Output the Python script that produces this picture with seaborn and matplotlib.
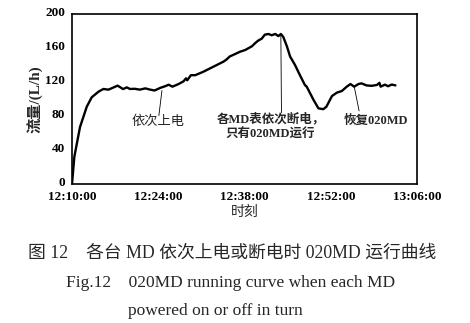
import matplotlib
matplotlib.use("Agg")
import matplotlib.pyplot as plt
import matplotlib.transforms as mtransforms
import seaborn as sns
import pandas as pd

# minutes after 12:10:00
minutes = [0, 0.38, 1.3, 2.4, 3.2, 4.3, 5.1, 5.9, 6.4, 7.4, 8.3, 8.9, 9.4, 10.2, 11.0,
           11.9, 12.7, 13.4, 14.3, 15.1, 15.7, 16.3, 17.3, 18.1, 18.5, 18.7, 19.3, 20.0,
           21.3, 22.4, 23.5, 24.6, 25.1, 25.6, 26.5, 27.3, 28.1, 28.6, 29.2, 29.7, 30.2,
           30.8, 31.3, 31.9, 32.4, 33.0, 33.5, 33.9, 34.3, 34.9, 35.4, 36.2, 37.0, 37.8,
           38.1, 39.2, 40.0, 40.8, 41.3, 42.2, 43.0, 43.8, 44.6, 45.2, 45.8, 46.5, 47.0,
           47.8, 48.6, 49.5, 49.9, 50.1, 50.8, 51.3, 51.9, 52.5]
flow = [0, 32, 67, 91, 102, 108.6, 111.8, 111, 112.5, 115.7, 111.7, 113.7, 111.8, 112, 111,
        112.5, 111, 110, 113, 115, 116.8, 114.5, 117.6, 120.8, 124.3, 122, 128, 128,
        132, 136, 140, 144, 146.6, 150, 153, 155.7, 157.6, 159.6, 162, 165.5, 168.6,
        171, 175.7, 176.5, 175, 176.5, 174, 176.5, 173, 161.6, 150, 140, 128, 116.5,
        114.5, 99, 89, 88, 91, 103.5, 107.5, 109.4, 114.5, 117.6, 114.5, 117.6, 118.4,
        116, 115.5, 116.5, 119, 114.5, 116.9, 115, 117, 116]

x_ticks = [0, 14, 28, 42, 56]
x_labels = ["12:10:00", "12:24:00", "12:38:00", "12:52:00", "13:06:00"]
y_ticks = [0, 40, 80, 120, 160, 200]

ann_texts = ["依次上电", "各MD表依次断电，\n只有020MD运行", "恢复020MD"]

sns.set_theme(style="white")
FAM = ['Liberation Serif', 'Noto Sans CJK SC']
plt.rcParams['font.family'] = FAM

df = pd.DataFrame({"t": minutes, "q": flow})

fig = plt.figure(figsize=(4.70, 3.23), dpi=100)
ax = fig.add_axes([72/470, 1-184/323, 345/470, 170/323])
sns.lineplot(data=df, x="t", y="q", ax=ax, color="black", linewidth=1.7)

ax.set_xlim(0, 56)
ax.set_ylim(0, 200)
ax.set_xticks(x_ticks)
ax.set_xticklabels(x_labels, fontsize=9.5, fontweight="bold")
ax.set_yticks(y_ticks)
ax.set_yticklabels([str(v) for v in y_ticks], fontsize=9.5, fontweight="bold")
ax.tick_params(axis="x", direction="in", length=3, width=0.8, pad=5, colors="black")
ax.tick_params(axis="y", direction="in", length=3, width=0.8, pad=5, colors="black")
# lift the y tick labels a touch, as in the reference
lift = mtransforms.ScaledTranslation(0, 2/100, fig.dpi_scale_trans)
for lbl in ax.get_yticklabels():
    lbl.set_transform(lbl.get_transform() + lift)
for s in ax.spines.values():
    s.set_color("black")
    s.set_linewidth(1.2)
ax.set_xlabel("")
ax.set_ylabel("")

fig.text(36/470, 1-99/323, "流量/(L/h)", rotation=90, ha="center", va="center",
         fontsize=11, fontweight="bold", family=FAM)
fig.text(245/470, 1-212/323, "时刻", ha="center", va="center", fontsize=10)

# annotations
ax.plot([14.6, 14.1], [110, 80.5], color="black", linewidth=0.6)
ax.text(14.0, 73, ann_texts[0], ha="center", va="center", fontsize=9.5)
ax.plot([33.9, 34.0], [176, 84], color="black", linewidth=0.6)
ax.text(32.2, 68, ann_texts[1], ha="center", va="center", fontsize=9, fontweight="bold",
        linespacing=1.35)
ax.plot([45.8, 46.6], [115, 86], color="black", linewidth=0.6)
ax.text(49.3, 74, ann_texts[2], ha="center", va="center", fontsize=9, fontweight="bold")

# caption
fig.text(232/470, 1-253/323, "图 12    各台 MD 依次上电或断电时 020MD 运行曲线",
         ha="center", va="center", fontsize=12.8, family=FAM)
fig.text(231/470, 1-283/323, "Fig.12    020MD running curve when each MD",
         ha="center", va="center", fontsize=12.5)
fig.text(128/470, 1-311/323, "powered on or off in turn",
         ha="left", va="center", fontsize=12.5)

fig.savefig("out.png", dpi=100)
